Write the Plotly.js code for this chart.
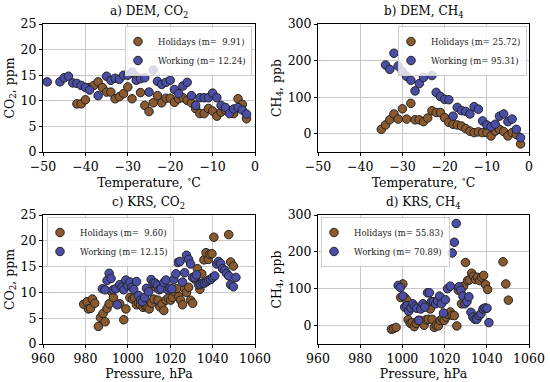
<!DOCTYPE html>
<html><head><meta charset="utf-8">
<script src="https://cdn.plot.ly/plotly-3.0.1.min.js"></script>
<style>body{margin:0;background:#fff}#c{width:550px;height:382px}</style>
</head><body><div id="c"></div>
<script>
// Panel a: DEM CO2 vs temperature
const aHolT = [-42,-41,-40,-39,-38,-37,-36,-35,-34,-33,-32,-31,-30,-29,-28,-27,-26,-25,-24,-23,-22,-21,-20,-19,-18,-17,-16,-15,-14,-13,-12,-11,-10,-9,-8,-7,-6,-5,-4,-3,-2];
const aHolV = [9.4,9.4,10.2,12.6,13.0,13.7,12.6,11.7,11.7,10.4,10.8,11.4,12.7,10.4,14.7,11.6,9.1,7.9,9.6,11.0,9.6,10.5,10.5,9.7,10.4,10.6,10.1,9.6,8.5,7.5,7.5,8.5,8.0,7.0,7.8,8.2,8.0,7.5,10.4,9.3,6.5];
const aWrkT = [-49,-46,-45,-44,-43,-42,-41,-40,-39,-37,-35,-34,-33,-32,-31,-30,-29,-28,-27,-26,-25,-24,-23,-22,-21,-20,-19,-18,-17,-16,-15,-14,-13,-12,-11,-10,-9,-8,-7,-6,-5,-4,-3,-2];
const aWrkV = [13.7,13.7,14.5,14.8,13.5,13.4,13.0,12.6,12.1,11.0,14.8,14.0,14.4,14.2,15.0,15.0,15.6,14.0,14.3,14.5,11.7,16.0,13.8,13.2,13.6,14.0,12.2,11.4,12.9,13.6,11.0,9.1,10.6,10.6,10.6,11.5,10.6,9.1,8.7,7.5,8.4,8.7,8.2,7.4];
// Panel b: DEM CH4 vs temperature
const bHolT = [-35,-34,-33,-32,-31,-30,-29,-28,-27,-26,-25,-24,-23,-22,-21,-20,-19,-18,-17,-16,-15,-14,-13,-12,-11,-10,-9,-8,-7,-6,-5,-4,-3,-2];
const bHolV = [12,24,38,54,40,68,40,83,38,38,33,43,63,58,58,44,31,26,24,21,14,7,3,5,3,3,-6,7,12,6,-6,3,-2,-28];
const bWrkT = [-34,-33,-32,-31,-30,-29,-28,-27,-26,-25,-23,-22,-21,-20,-19,-18,-17,-16,-15,-14,-13,-12,-11,-10,-9,-8,-7,-6,-5,-4,-3,-2];
const bWrkV = [188,176,220,185,170,157,146,117,137,154,159,113,102,94,93,48,72,63,61,54,74,67,35,24,19,26,48,54,33,40,12,-11];
// Panel c: KRS CO2 vs pressure
const cHolP = [979.2,980.8,981.4,982.4,983.3,984.4,986.1,987.1,988.3,989.3,990.2,991.2,992.4,993.2,996.2,998.1,999.1,1001,1002.2,1003.1,1004.1,1005,1006,1007.2,1008.2,1009.1,1010.1,1011.2,1012.3,1013.2,1014.2,1015.1,1016.1,1017,1018,1019.1,1020.2,1021.1,1022,1023,1024,1024.9,1025.8,1026.8,1027.7,1028.7,1029.6,1030.6,1031.8,1032.8,1034,1034.9,1035.9,1036.9,1038,1038.7,1039.7,1040.6,1047.6,1048.5,1049.8];
const cHolV = [7.7,8.2,6.8,6.9,8.7,7.9,3.4,5.1,5.9,4.3,6.9,7.8,10.1,9.0,7.8,4.7,6.8,9.0,8.7,8.9,7.6,8.0,7.6,7.1,7.4,7.2,6.8,7.9,8.7,11.0,8.5,7.2,7.7,6.5,8.5,8.9,8.5,9.0,10.1,10.7,9.2,8.5,7.6,10.7,10.0,11.0,8.5,7.9,12.5,14.6,10.6,13.6,16.3,17.7,16.4,17.4,17.5,20.7,21.2,15.9,15.1];
const cWrkP = [988,989.3,990.2,991.2,992.1,993.1,994.3,995,996.2,997.2,998.1,999.1,1000,1001,1001.9,1002.8,1004.1,1005,1006,1006.9,1007.9,1008.8,1009.8,1011,1012,1012.9,1013.9,1014.8,1015.7,1017,1018,1018.9,1019.8,1020.8,1021.7,1022.7,1023.6,1024.6,1025.8,1026.8,1027.7,1028.7,1029.6,1030.6,1031.5,1032.4,1033.4,1034.3,1035.3,1036.2,1037.2,1038.1,1039.1,1040,1041,1041.9,1042.8,1043.8,1044.7,1045.7,1046.6,1047.6,1048.5,1049.8,1051];
const cWrkV = [10.7,10.5,12.3,13.7,12.7,10.5,10.7,7.6,11.5,11.0,10.5,12.4,11.3,12.0,11.0,10.6,12.1,9.4,8.5,8.2,9.0,10.8,10.1,12.5,11.8,11.8,11.4,10.5,10.7,11.9,12.4,10.5,10.8,10.7,12.5,13.6,15.8,16.0,12.0,13.8,17.2,16.4,15.5,12.9,12.9,13.4,11.5,11.6,11.8,11.8,12.1,12.4,12.5,12.9,13.2,15.5,16.0,15.6,14.6,14.3,13.7,13.2,11.5,11.1,12.9];
// Panel d: KRS CH4 vs pressure
const dHolP = [994.8,995.8,997,999.2,1000.2,1001.1,1002.1,1002.7,1003.7,1004.6,1005.6,1006.5,1007.5,1008.4,1009.4,1010.3,1011.3,1012.3,1013.2,1014.1,1015.1,1016,1017,1017.9,1018.9,1019.8,1020.8,1021.7,1022.7,1023.6,1024.6,1025.8,1026.5,1027.4,1028,1029,1029.9,1030.9,1031.8,1032.8,1033.7,1034.7,1035.6,1036.6,1037.5,1038.5,1039.4,1040.4,1047.7,1049,1050.2];
const dHolV = [-10,-8,-5,76,113,76,69,16,6,8,-3,6,14,14,8,1,16,17,45,17,-5,1,-1,14,19,14,23,30,37,28,27,-1,96,103,59,107,171,122,124,142,134,125,131,122,131,136,111,98,173,113,69];
const dWrkP = [998,999,1000.2,1001.1,1002.1,1003,1004,1004.9,1005.9,1006.8,1007.8,1008.7,1009.7,1010.6,1011.9,1012.8,1013.8,1014.7,1015.7,1016.6,1017.6,1018.5,1019.5,1020.4,1021.4,1022.7,1023.6,1024.6,1025.5,1026.8,1027.7,1028.7,1029.6,1030.6,1031.5,1032.5,1033.4,1034.4,1035.3,1036.3,1037.2,1038.2,1039.1,1040.1,1041];
const dWrkV = [109,103,80,50,54,39,48,59,52,47,14,45,59,50,89,89,65,65,59,67,80,59,34,70,100,107,197,226,277,105,96,80,59,65,78,36,23,17,17,27,32,45,48,47,8];

const holColor = '#8a5a2e', wrkColor = '#4a4ea6';
const serif = 'DejaVu Serif';
function mk(x, y, name, color, xa, ya, lg) {
  return {x, y, name, type: 'scatter', mode: 'markers', xaxis: xa, yaxis: ya, legend: lg,
    marker: {color, size: 8.5, line: {color: '#222', width: 1}}};
}
const traces = [
  mk(aHolT, aHolV, 'Holidays (m=  9.91)', holColor, 'x', 'y', 'legend'),
  mk(aWrkT, aWrkV, 'Working (m= 12.24)', wrkColor, 'x', 'y', 'legend'),
  mk(bHolT, bHolV, 'Holidays (m= 25.72)', holColor, 'x2', 'y2', 'legend2'),
  mk(bWrkT, bWrkV, 'Working (m= 95.31)', wrkColor, 'x2', 'y2', 'legend2'),
  mk(cHolP, cHolV, 'Holidays (m=  9.60)', holColor, 'x3', 'y3', 'legend3'),
  mk(cWrkP, cWrkV, 'Working (m= 12.15)', wrkColor, 'x3', 'y3', 'legend3'),
  mk(dHolP, dHolV, 'Holidays (m= 55.83)', holColor, 'x4', 'y4', 'legend4'),
  mk(dWrkP, dWrkV, 'Working (m= 70.89)', wrkColor, 'x4', 'y4', 'legend4')
];
const tf = {family: serif, size: 12.5, color: '#000'};
function xax(dom, anchor, range, dtick, title) {
  return {domain: dom, anchor, range, dtick, tick0: range[0], showline: true, mirror: true, linecolor: '#000', linewidth: 1,
    ticks: 'outside', ticklen: 3, tickcolor: '#000', gridcolor: '#c8c8c8', zeroline: false, tickfont: tf,
    title: {text: title, font: {family: serif, size: 12.5, color: '#000'}, standoff: 1}};
}
function yax(dom, anchor, range, dtick, title) {
  return {domain: dom, anchor, range, dtick, tick0: 0, showline: true, mirror: true, linecolor: '#000', linewidth: 1,
    ticks: 'outside', ticklen: 3, tickcolor: '#000', gridcolor: '#c8c8c8', zeroline: false, tickfont: tf,
    title: {text: title, font: {family: serif, size: 12.5, color: '#000'}, standoff: 3}};
}
const W = 550, H = 382;
const xL = [43/W, 255/W], xR = [318/W, 529/W];
const yT = [1-152/H, 1-24/H], yB = [1-344/H, 1-215/H];
const lgBase = {bgcolor: 'rgba(255,255,255,0.8)', bordercolor: '#ccc', borderwidth: 1, font: {family: serif, size: 8.5, color: '#222'},
  tracegroupgap: 0, itemwidth: 30, yanchor: 'top', itemsizing: 'trace', indentation: -8};
const layout = {
  width: W, height: H, margin: {l: 0, r: 0, t: 0, b: 0}, paper_bgcolor: '#fff', plot_bgcolor: '#fff',
  font: {family: serif},
  xaxis: xax(xL, 'y', [-50, 0], 10, 'Temperature, <sup>∘</sup>C'),
  yaxis: yax(yT, 'x', [0, 25], 5, 'CO<sub>2</sub>, ppm'),
  xaxis2: xax(xR, 'y2', [-50, 0], 10, 'Temperature, <sup>∘</sup>C'),
  yaxis2: yax(yT, 'x2', [-50, 300], 100, 'CH<sub>4</sub>, ppb'),
  xaxis3: xax(xL, 'y3', [960, 1060], 20, 'Pressure, hPa'),
  yaxis3: yax(yB, 'x3', [0, 25], 5, 'CO<sub>2</sub>, ppm'),
  xaxis4: xax(xR, 'y4', [960, 1060], 20, 'Pressure, hPa'),
  yaxis4: yax(yB, 'x4', [-50, 300], 100, 'CH<sub>4</sub>, ppb'),
  legend: Object.assign({}, lgBase, {x: 252/W, xanchor: 'right', y: 1-26/H}),
  legend2: Object.assign({}, lgBase, {x: 527/W, xanchor: 'right', y: 1-26/H}),
  legend3: Object.assign({}, lgBase, {x: 47/W, xanchor: 'left', y: 1-217/H}),
  legend4: Object.assign({}, lgBase, {x: 321/W, xanchor: 'left', y: 1-217/H}),
  annotations: [
    ['a) DEM, CO<sub>2</sub>', xL], ['b) DEM, CH<sub>4</sub>', xR]
  ].map(([t, d]) => ({text: t, xref: 'paper', yref: 'paper', x: (d[0]+d[1])/2, y: 1-22/H, xanchor: 'center', yanchor: 'bottom', showarrow: false, font: {family: serif, size: 12, color: '#000'}}))
  .concat([['c) KRS, CO<sub>2</sub>', xL], ['d) KRS, CH<sub>4</sub>', xR]]
  .map(([t, d]) => ({text: t, xref: 'paper', yref: 'paper', x: (d[0]+d[1])/2, y: 1-213/H, xanchor: 'center', yanchor: 'bottom', showarrow: false, font: {family: serif, size: 12, color: '#000'}})))
};
Plotly.newPlot('c', traces, layout, {displayModeBar: false});
</script></body></html>
